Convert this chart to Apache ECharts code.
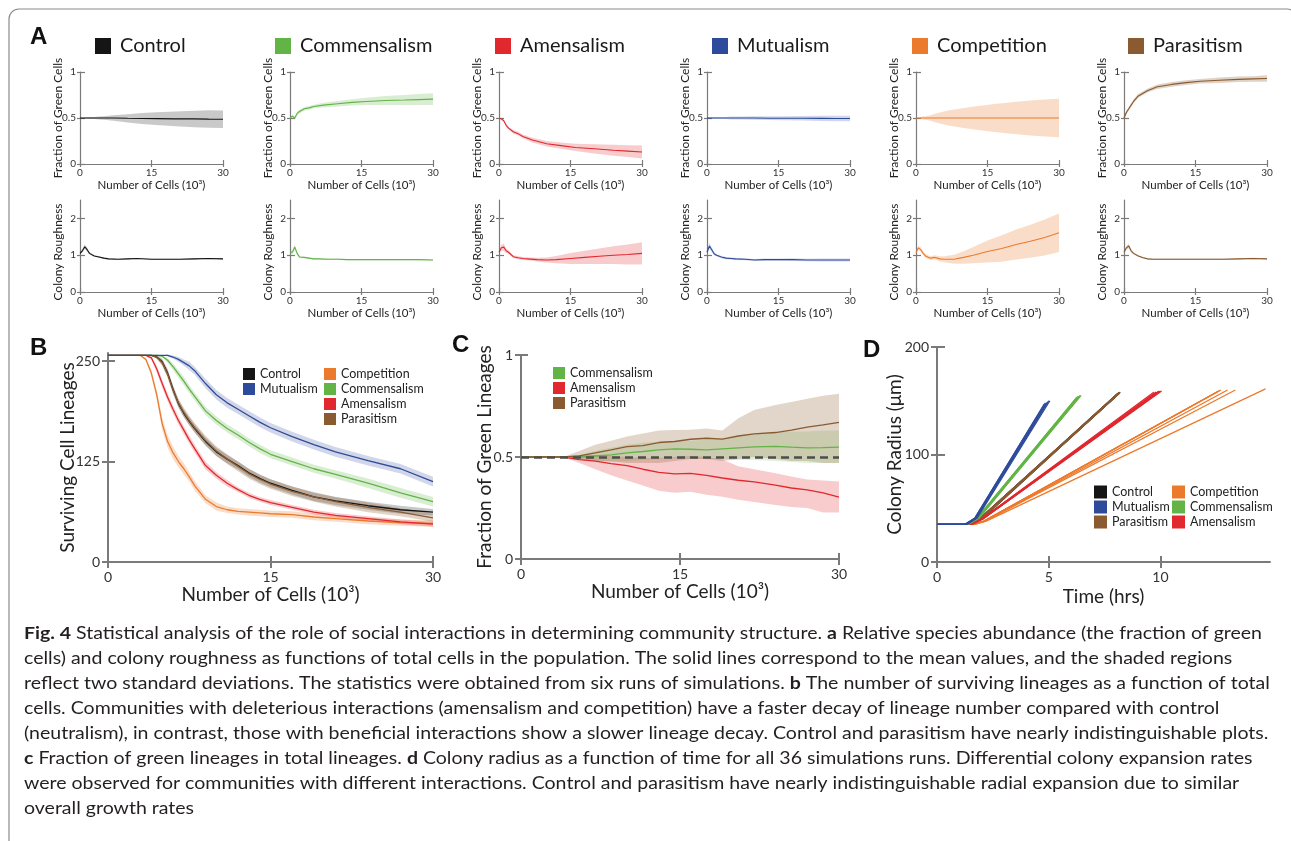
<!DOCTYPE html>
<html><head><meta charset="utf-8">
<script src="https://cdn.jsdelivr.net/npm/echarts@6/dist/echarts.min.js"></script>
<style>html,body{margin:0;padding:0;background:#fff}#c{width:1291px;height:841px}</style>
</head><body><div id="c"></div>
<script>
// ================= DATA =================
const interactions = ['Control','Commensalism','Amensalism','Mutualism','Competition','Parasitism'];

// Panel A, top row: fraction of green cells (mean, half-band) vs number of cells (10^3)
const fracX = [0, 0.5, 1, 1.5, 2, 3, 4, 5, 7, 10, 13, 16, 20, 24, 27, 30];
const controlFrac        = [0.5,0.5,0.5,0.5,0.5,0.5,0.5,0.5,0.5,0.497,0.495,0.493,0.49,0.49,0.488,0.487];
const controlFracSd      = [0,0.003,0.005,0.007,0.01,0.012,0.015,0.02,0.03,0.045,0.06,0.07,0.08,0.09,0.095,0.095];
const commensalismFrac   = [0.5,0.52,0.5,0.55,0.57,0.6,0.61,0.625,0.64,0.655,0.67,0.68,0.69,0.695,0.7,0.705];
const commensalismFracSd = [0.01,0.015,0.02,0.02,0.02,0.02,0.02,0.02,0.025,0.03,0.035,0.04,0.05,0.055,0.06,0.065];
const amensalismFrac     = [0.5,0.49,0.47,0.42,0.39,0.35,0.33,0.3,0.26,0.22,0.2,0.18,0.165,0.15,0.14,0.13];
const amensalismFracSd   = [0.005,0.01,0.01,0.015,0.015,0.02,0.02,0.02,0.025,0.03,0.035,0.04,0.05,0.06,0.065,0.07];
const mutualismFrac      = [0.5,0.5,0.5,0.5,0.5,0.5,0.5,0.5,0.5,0.5,0.498,0.497,0.497,0.496,0.495,0.495];
const mutualismFracSd    = [0.01,0.012,0.012,0.012,0.012,0.012,0.012,0.015,0.015,0.018,0.02,0.022,0.025,0.028,0.03,0.03];
const competitionFrac    = [0.5,0.5,0.5,0.5,0.5,0.5,0.5,0.5,0.5,0.5,0.5,0.5,0.5,0.5,0.5,0.5];
const competitionFracSd  = [0,0.005,0.01,0.015,0.02,0.03,0.045,0.06,0.085,0.11,0.13,0.15,0.17,0.19,0.2,0.21];
const parasitismFrac     = [0.5,0.56,0.6,0.64,0.68,0.74,0.77,0.8,0.84,0.865,0.885,0.9,0.91,0.92,0.925,0.93];
const parasitismFracSd   = [0.01,0.02,0.02,0.02,0.02,0.02,0.02,0.02,0.025,0.025,0.025,0.025,0.03,0.03,0.03,0.035];

// Panel A, bottom row: colony roughness
const roughX = [0, 0.5, 1, 1.5, 2, 3, 4, 5, 6, 8, 10, 12, 15, 18, 21, 24, 27, 30];
const controlRough        = [1.05,1.12,1.23,1.15,1.05,0.98,0.95,0.92,0.9,0.89,0.9,0.91,0.89,0.89,0.89,0.9,0.91,0.9];
const controlRoughSd      = [0.03,0.05,0.06,0.05,0.03,0.02,0.02,0.02,0.02,0.015,0.015,0.015,0.015,0.015,0.015,0.015,0.015,0.015];
const commensalismRough   = [1.08,1.08,1.22,1.05,0.95,0.94,0.92,0.9,0.9,0.89,0.89,0.88,0.88,0.88,0.88,0.88,0.88,0.87];
const commensalismRoughSd = [0.04,0.06,0.08,0.05,0.03,0.02,0.02,0.02,0.02,0.02,0.02,0.02,0.02,0.02,0.02,0.02,0.02,0.02];
const amensalismRough     = [1.08,1.2,1.22,1.12,1.08,0.96,0.93,0.91,0.9,0.88,0.87,0.88,0.91,0.94,0.97,1.0,1.02,1.05];
const amensalismRoughSd   = [0.04,0.08,0.1,0.06,0.05,0.04,0.04,0.04,0.04,0.05,0.07,0.1,0.15,0.18,0.21,0.24,0.27,0.3];
const mutualismRough      = [1.08,1.25,1.15,1.04,1.0,0.95,0.92,0.91,0.9,0.89,0.87,0.88,0.88,0.88,0.87,0.87,0.87,0.87];
const mutualismRoughSd    = [0.04,0.08,0.06,0.04,0.03,0.03,0.03,0.03,0.03,0.03,0.03,0.03,0.03,0.035,0.035,0.04,0.04,0.04];
const competitionRough    = [1.07,1.2,1.15,1.05,0.98,0.92,0.94,0.9,0.89,0.89,0.94,1.0,1.1,1.18,1.29,1.38,1.48,1.61];
const competitionRoughSd  = [0.04,0.06,0.06,0.05,0.05,0.05,0.06,0.07,0.08,0.12,0.17,0.22,0.3,0.36,0.41,0.45,0.49,0.52];
const parasitismRough     = [1.08,1.2,1.25,1.12,1.05,0.98,0.93,0.9,0.89,0.89,0.89,0.89,0.89,0.89,0.89,0.9,0.91,0.9];
const parasitismRoughSd   = [0.03,0.05,0.06,0.04,0.03,0.02,0.02,0.02,0.02,0.02,0.02,0.02,0.02,0.02,0.02,0.02,0.02,0.02];

// Panel B: surviving cell lineages
const lineageX = [0, 3, 3.5, 4, 4.5, 5, 5.5, 6, 6.5, 7, 7.5, 8, 9, 10, 11, 12, 13, 14, 15, 17, 19, 21, 24, 27, 30];
const controlLineages      = [257,257,257,257,255,249,235,215,197,185,175,166,150,137,128,120,111,104,98,89,81,76,70,65,62];
const controlLineagesSd    = [0,0,0,0,2,4,5,5,5,5,5,5,5,5,5,5,5,5,5,5,5,5,5,5,4];
const mutualismLineages    = [257,257,257,257,257,257,257,255,252,248,244,238,222,208,198,190,182,174,167,156,146,137,126,116,100];
const mutualismLineagesSd  = [0,0,0,0,0,0,1,2,3,4,5,5,6,6,6,6,6,6,6,6,6,6,6,6,6];
const competitionLineages  = [257,257,252,235,208,172,150,136,125,116,106,95,78,69,65,63,62,61,60,59,56,54,51,49,48];
const competitionLineagesSd= [0,0,2,4,6,8,8,8,7,7,6,6,5,5,4,4,4,4,4,4,4,4,4,4,4];
const commensalismLineages = [257,257,257,257,257,256,251,243,234,225,215,206,188,176,166,158,149,141,134,125,116,109,98,86,75];
const commensalismLineagesSd=[0,0,0,0,0,1,3,4,5,5,5,5,5,5,5,5,5,5,5,5,5,5,6,6,6];
const amensalismLineages   = [257,257,257,254,240,222,205,190,176,164,152,141,120,108,98,90,83,78,74,68,62,58,54,50,47];
const amensalismLineagesSd = [0,0,0,2,4,5,5,5,5,5,5,5,5,4,4,3,3,3,3,3,3,3,3,3,3];
const parasitismLineages   = [257,257,257,257,255,248,234,214,198,186,176,167,151,138,128,119,110,103,97,88,81,75,68,62,55];
const parasitismLineagesSd = [0,0,0,0,2,4,5,5,5,6,6,6,6,6,6,6,6,6,6,6,6,6,6,5,5];

// Panel C: fraction of green lineages (mean, lower, upper)
const greenLinX = [0, 4, 5.5, 7, 8.5, 10, 11.5, 13, 14.5, 16, 17.5, 19, 20.5, 22, 24, 25.5, 27, 28.5, 30];
const commensalismGL      = [0.5,0.5,0.5,0.505,0.51,0.52,0.527,0.535,0.54,0.538,0.535,0.54,0.545,0.55,0.552,0.548,0.545,0.546,0.548];
const commensalismGLLow   = [0.5,0.5,0.49,0.48,0.475,0.48,0.485,0.49,0.495,0.49,0.49,0.49,0.485,0.485,0.48,0.475,0.47,0.47,0.47];
const commensalismGLHigh  = [0.5,0.5,0.51,0.53,0.545,0.56,0.57,0.575,0.58,0.58,0.585,0.59,0.6,0.61,0.62,0.625,0.625,0.63,0.63];
const amensalismGL        = [0.5,0.5,0.487,0.48,0.468,0.458,0.44,0.425,0.417,0.42,0.41,0.397,0.386,0.378,0.362,0.348,0.339,0.324,0.303];
const amensalismGLLow     = [0.5,0.5,0.47,0.44,0.41,0.385,0.36,0.335,0.325,0.33,0.315,0.305,0.29,0.28,0.265,0.255,0.25,0.228,0.228];
const amensalismGLHigh    = [0.5,0.5,0.51,0.51,0.505,0.5,0.495,0.495,0.5,0.505,0.5,0.488,0.455,0.44,0.42,0.405,0.39,0.385,0.38];
const parasitismGL        = [0.5,0.5,0.506,0.52,0.535,0.551,0.556,0.571,0.576,0.587,0.592,0.588,0.603,0.613,0.62,0.632,0.646,0.657,0.67];
const parasitismGLLow     = [0.5,0.5,0.49,0.48,0.48,0.47,0.47,0.47,0.48,0.49,0.49,0.48,0.49,0.5,0.49,0.48,0.48,0.47,0.47];
const parasitismGLHigh    = [0.5,0.5,0.53,0.56,0.58,0.6,0.615,0.63,0.632,0.633,0.64,0.63,0.69,0.73,0.755,0.77,0.785,0.8,0.81];
const neutralFraction = 0.5;

// Panel D: colony radius runs. Each run: [liftTime, bendTime, bendRadius, endTime, endRadius]
const startRadius = 35;
const controlRuns      = [[1.4,1.9,40,8.1,157],[1.4,1.9,40,8.12,157],[1.45,1.95,40,8.14,157.5],[1.45,1.95,40,8.16,157],[1.45,1.95,40,8.17,157.5],[1.5,2.0,40,8.19,158]];
const mutualismRuns    = [[1.25,1.7,41,4.8,147],[1.25,1.7,41,4.85,148],[1.3,1.75,41,4.9,148],[1.3,1.75,41,4.95,149],[1.3,1.75,41,5.0,150],[1.35,1.8,41,5.05,150]];
const parasitismRuns   = [[1.4,1.9,40,8.1,157],[1.4,1.9,40,8.12,157],[1.45,1.95,40,8.15,157.5],[1.45,1.95,40,8.15,157],[1.45,1.95,40,8.18,157.5],[1.5,2.0,40,8.2,158]];
const competitionRuns  = [[1.6,2.1,38,12.6,159],[1.6,2.1,38,12.65,159.5],[1.6,2.1,38,12.7,160],[1.65,2.15,38,13.0,160],[1.65,2.15,38,13.35,160],[1.7,2.2,38,14.7,161]];
const commensalismRuns = [[1.3,1.8,41,6.25,153],[1.3,1.8,41,6.3,154],[1.35,1.85,41,6.35,154],[1.35,1.85,41,6.4,155],[1.35,1.85,41,6.45,155],[1.4,1.9,41,6.4,154]];
const amensalismRuns   = [[1.5,2.0,40,9.7,158],[1.5,2.0,40,9.8,158],[1.5,2.0,40,9.9,158.5],[1.55,2.05,40,9.95,159],[1.55,2.05,40,10.0,159],[1.55,2.05,40,10.05,159]];

// Tick labels
const cellTicks = [0, 15, 30];
const fracTicks = [0, 0.5, 1];
const roughTicks = [0, 1, 2];
const lineageTicks = [0, 125, 250];
const timeTicks = [0, 5, 10];
const radiusTicks = [0, 100, 200];

const captionLines = [
 '{b|Fig. 4} Statistical analysis of the role of social interactions in determining community structure. {b|a} Relative species abundance (the fraction of green',
 'cells) and colony roughness as functions of total cells in the population. The solid lines correspond to the mean values, and the shaded regions',
 'reflect two standard deviations. The statistics were obtained from six runs of simulations. {b|b} The number of surviving lineages as a function of total',
 'cells. Communities with deleterious interactions (amensalism and competition) have a faster decay of lineage number compared with control',
 '(neutralism), in contrast, those with beneficial interactions show a slower lineage decay. Control and parasitism have nearly indistinguishable plots.',
 '{b|c} Fraction of green lineages in total lineages. {b|d} Colony radius as a function of time for all 36 simulations runs. Differential colony expansion rates',
 'were observed for communities with different interactions. Control and parasitism have nearly indistinguishable radial expansion due to similar',
 'overall growth rates'
];

// ================= STYLE =================
const FONT = 'Lato, "Open Sans", sans-serif';
const AXIS = '#7a7a7a';
const lineColor = {Control:'#151515', Commensalism:'#62b446', Amensalism:'#e0282e', Mutualism:'#2e4b9b', Competition:'#ec7a2d', Parasitism:'#8a5a30'};
const bandColor = {Control:'rgba(0,0,0,0.21)', Commensalism:'rgba(98,180,70,0.24)', Amensalism:'rgba(224,40,46,0.24)', Mutualism:'rgba(46,75,155,0.22)', Competition:'rgba(236,122,45,0.26)', Parasitism:'rgba(138,90,48,0.27)'};

const fracMeans = [controlFrac, commensalismFrac, amensalismFrac, mutualismFrac, competitionFrac, parasitismFrac];
const fracSds = [controlFracSd, commensalismFracSd, amensalismFracSd, mutualismFracSd, competitionFracSd, parasitismFracSd];
const roughMeans = [controlRough, commensalismRough, amensalismRough, mutualismRough, competitionRough, parasitismRough];
const roughSds = [controlRoughSd, commensalismRoughSd, amensalismRoughSd, mutualismRoughSd, competitionRoughSd, parasitismRoughSd];

// ================= LAYOUT =================
const smallLefts = [80, 290, 499, 707, 916, 1124];
const titleLefts = [95, 275, 495, 712, 912, 1128];
const grids = [];
smallLefts.forEach(l => grids.push({left:l, top:72, width:143, height:92}));
smallLefts.forEach(l => grids.push({left:l, top:200, width:143, height:92}));
grids.push({left:108, top:353, width:325, height:209}); // B = 12
grids.push({left:521, top:355, width:318, height:204}); // C = 13
grids.push({left:937, top:347, width:333, height:215}); // D = 14
grids.forEach(g => { g.outerBoundsMode = 'none'; g.containLabel = false; });

const xAxes = [], yAxes = [];
function axisPair(gi, dim, c) {
  const base = {gridIndex:gi, type:'value', position: dim === 'x' ? 'bottom' : 'left', min:c.min, max:c.max, interval:c.interval, splitLine:{show:false}, splitArea:{show:false}, silent:true};
  const main = Object.assign({}, base, {
    axisLine:{show:true, onZero:false, lineStyle:{color:AXIS, width:c.lw}},
    axisTick:{show:true, inside:false, length:c.tickOut, customValues:c.ticks, lineStyle:{color:AXIS, width:c.lw}},
    axisLabel:{show:true, customValues:c.ticks, fontSize:c.fs, color:'#333', fontFamily:FONT, margin:c.margin, hideOverlap:false,
      formatter: v => (c.ticks.indexOf(v) >= 0 ? String(v) : '')},
    name:c.name, nameLocation:'middle', nameGap:c.nameGap, nameMoveOverlap:false,
    nameTextStyle:{fontSize:c.nfs, fontFamily:FONT, color:'#222', padding:c.namePad || 0}
  });
  const inner = Object.assign({}, base, {
    axisLine:{show:false, onZero:false},
    axisTick:{show:true, inside:true, length:c.tickIn, customValues:c.ticks, lineStyle:{color:AXIS, width:c.lw}},
    axisLabel:{show:false}, name:''
  });
  return [main, inner];
}
function addAxes(gi, xc, yc) { xAxes.push(...axisPair(gi, 'x', xc)); yAxes.push(...axisPair(gi, 'y', yc)); }

const smallX = {min:0, max:30, interval:15, ticks:cellTicks, lw:1.2, tickOut:3, tickIn:4, fs:10, margin:4, name:'Number of Cells (10³)', nameGap:15, nfs:11.5};
const smallYTop = {min:0, max:1, interval:0.5, ticks:fracTicks, lw:1.2, tickOut:3, tickIn:5, fs:10, margin:4, name:'Fraction of Green Cells', nameGap:16, nfs:12};
const smallYBot = {min:0, max:2.5, interval:1, ticks:roughTicks, lw:1.2, tickOut:3, tickIn:5, fs:10, margin:4, name:'Colony Roughness', nameGap:16, nfs:12, namePad:[0,12,0,0]};
for (let i = 0; i < 6; i++) addAxes(i, smallX, smallYTop);
for (let i = 0; i < 6; i++) addAxes(6 + i, smallX, smallYBot);
const bigCells = {min:0, max:30, interval:15, ticks:cellTicks, lw:2, tickOut:6, tickIn:6, fs:14, margin:8, name:'Number of Cells (10³)', nameGap:23, nfs:19};
addAxes(12, bigCells, {min:0, max:260, interval:125, ticks:lineageTicks, lw:2, tickOut:6, tickIn:7, fs:14, margin:8, name:'Surviving Cell Lineages', nameGap:31, nfs:19});
addAxes(13, bigCells, {min:0, max:1, interval:0.5, ticks:fracTicks, lw:2, tickOut:6, tickIn:7, fs:14, margin:8, name:'Fraction of Green Lineages', nameGap:27, nfs:19});
addAxes(14, {min:0, max:14.9, interval:5, ticks:timeTicks, lw:2, tickOut:6, tickIn:6, fs:14, margin:8, name:'Time (hrs)', nameGap:25, nfs:19},
            {min:0, max:200, interval:100, ticks:radiusTicks, lw:2, tickOut:6, tickIn:8, fs:14, margin:8, name:'Colony Radius (μm)', nameGap:33, nfs:19});

// ================= SERIES =================
const series = [];
function bandRows(gi, name, rows, fill, z) {
  return {type:'custom', name: name + ' band', xAxisIndex:2*gi, yAxisIndex:2*gi, data:rows, encode:{x:0, y:[1,2]},
    silent:true, z: z || 1, clip:false, animation:false,
    renderItem: function (params, api) {
      if (params.dataIndexInside !== 0) return null;
      const pts = [];
      for (let k = 0; k < rows.length; k++) pts.push(api.coord([rows[k][0], rows[k][2]]));
      for (let k = rows.length - 1; k >= 0; k--) pts.push(api.coord([rows[k][0], rows[k][1]]));
      return {type:'polygon', shape:{points:pts}, style:{fill:fill, stroke:null}};
    }};
}
function bandSd(gi, name, xs, mean, sd, fill) { return bandRows(gi, name, xs.map((x, i) => [x, mean[i] - sd[i], mean[i] + sd[i]]), fill); }
function bandLH(gi, name, xs, lo, hi, fill) { return bandRows(gi, name, xs.map((x, i) => [x, lo[i], hi[i]]), fill); }
function meanLine(gi, name, xs, ys, width, z) {
  return {type:'line', name, xAxisIndex:2*gi, yAxisIndex:2*gi, data: xs.map((x, i) => [x, ys[i]]), symbol:'none', showSymbol:false,
    silent:true, z: z || 3, lineStyle:{color:lineColor[name], width}, itemStyle:{color:lineColor[name]}, emphasis:{disabled:true}, animation:false};
}

// A
interactions.forEach((n, i) => {
  series.push(bandSd(i, n, fracX, fracMeans[i], fracSds[i], bandColor[n]));
  series.push(meanLine(i, n, fracX, fracMeans[i], 1.1));
  series.push(bandSd(6 + i, n, roughX, roughMeans[i], roughSds[i], bandColor[n]));
  series.push(meanLine(6 + i, n, roughX, roughMeans[i], 1.1));
});
// B
const bNames = ['Competition','Amensalism','Control','Parasitism','Commensalism','Mutualism'];
const bMeans = [competitionLineages, amensalismLineages, controlLineages, parasitismLineages, commensalismLineages, mutualismLineages];
const bSds = [competitionLineagesSd, amensalismLineagesSd, controlLineagesSd, parasitismLineagesSd, commensalismLineagesSd, mutualismLineagesSd];
bNames.forEach((n, i) => series.push(bandSd(12, n, lineageX, bMeans[i], bSds[i], bandColor[n])));
bNames.forEach((n, i) => series.push(meanLine(12, n, lineageX, bMeans[i], 1.3)));
// C
series.push(bandLH(13, 'Amensalism', greenLinX, amensalismGLLow, amensalismGLHigh, bandColor.Amensalism));
series.push(bandLH(13, 'Commensalism', greenLinX, commensalismGLLow, commensalismGLHigh, 'rgba(98,180,70,0.2)'));
series.push(bandLH(13, 'Parasitism', greenLinX, parasitismGLLow, parasitismGLHigh, 'rgba(138,90,48,0.25)'));
series.push(meanLine(13, 'Amensalism', greenLinX, amensalismGL, 1.3));
series.push(meanLine(13, 'Commensalism', greenLinX, commensalismGL, 1.3));
const lastC = meanLine(13, 'Parasitism', greenLinX, parasitismGL, 1.3);
lastC.markLine = {silent:true, symbol:['none','none'], label:{show:false}, animation:false,
  lineStyle:{color:'#4d4d4d', type:[8,5], width:2.6}, data:[{yAxis: neutralFraction}]};
series.push(lastC);
// D
const dGroups = [['Control', controlRuns], ['Parasitism', parasitismRuns], ['Competition', competitionRuns], ['Amensalism', amensalismRuns], ['Commensalism', commensalismRuns], ['Mutualism', mutualismRuns]];
dGroups.forEach(([n, runs]) => runs.forEach(r => {
  const pts = [[0, startRadius], [r[0], startRadius], [r[1], r[2]], [r[3], r[4]]];
  series.push({type:'line', name:n, xAxisIndex:28, yAxisIndex:28, data:pts, symbol:'none', showSymbol:false, silent:true, z:3,
    lineStyle:{color:lineColor[n], width:1.3}, itemStyle:{color:lineColor[n]}, emphasis:{disabled:true}, animation:false});
}));

// ================= LEGENDS =================
function legend(names, left, top, o) {
  return Object.assign({data:names, left, top, orient:'vertical', align:'left', icon:'rect', selectedMode:false, padding:0, itemGap:0,
    itemWidth:12, itemHeight:12, itemStyle:{borderWidth:0},
    textStyle:{fontFamily:FONT, fontSize:12.5, color:'#222', lineHeight:15}}, o || {});
}
const legends = interactions.map((n, i) => legend([n], titleLefts[i], 36,
  {itemWidth:16, itemHeight:16, textStyle:{fontFamily:FONT, fontSize:20, color:'#1a1a1a', lineHeight:20, padding:[0,0,0,4]}}));
legends.push(legend(['Control','Mutualism'], 243, 366.5));
legends.push(legend(['Competition','Commensalism','Amensalism','Parasitism'], 324, 366.5));
legends.push(legend(['Commensalism','Amensalism','Parasitism'], 553, 365.5));
legends.push(legend(['Control','Mutualism','Parasitism'], 1094, 484.5, {itemWidth:13, itemHeight:13}));
legends.push(legend(['Competition','Commensalism','Amensalism'], 1172, 484.5, {itemWidth:13, itemHeight:13}));

// ================= GRAPHICS (frame, panel letters, caption) =================
const CAP_FS = 17;
const cv = document.createElement('canvas').getContext('2d');
function lineWidthPx(line) {
  let w = 0;
  line.split(/(\{b\|[^}]*\})/).forEach(p => {
    if (!p) return;
    const m = p.match(/^\{b\|([^}]*)\}$/);
    cv.font = (m ? 'bold ' : '') + CAP_FS + 'px Lato';
    w += cv.measureText(m ? m[1] : p).width;
  });
  return w;
}
const capScale = 1238 / lineWidthPx(captionLines[0]);
const graphics = [
  {type:'rect', silent:true, shape:{x:9, y:9, width:1288, height:900, r:10}, style:{fill:'none', stroke:'#8a8a8a', lineWidth:1.2}},
];
[['A',30,37],['B',30,348],['C',452,345],['D',863,350]].forEach(([t, x, y]) => graphics.push(
  {type:'text', silent:true, x, y, style:{text:t, fontFamily:'"Liberation Sans", Arial, sans-serif', fontWeight:'bold', fontSize:24, fill:'#111', verticalAlign:'middle', align:'left'}}));
captionLines.forEach((t, i) => graphics.push({type:'text', silent:true, x:24, y:634 + 25 * i, scaleX:capScale, scaleY:1,
  style:{text:t, fontFamily:'Lato', fontSize:CAP_FS, fill:'#231f20', verticalAlign:'middle', align:'left',
    rich:{b:{fontFamily:'Lato', fontWeight:'bold', fontSize:CAP_FS, fill:'#231f20'}}}}));

const chart = echarts.init(document.getElementById('c'), null, {renderer:'canvas'});
chart.setOption({
  animation:false, backgroundColor:'#fff', textStyle:{fontFamily:FONT},
  grid:grids, xAxis:xAxes, yAxis:yAxes, legend:legends, series, graphic:graphics
});
</script></body></html>
